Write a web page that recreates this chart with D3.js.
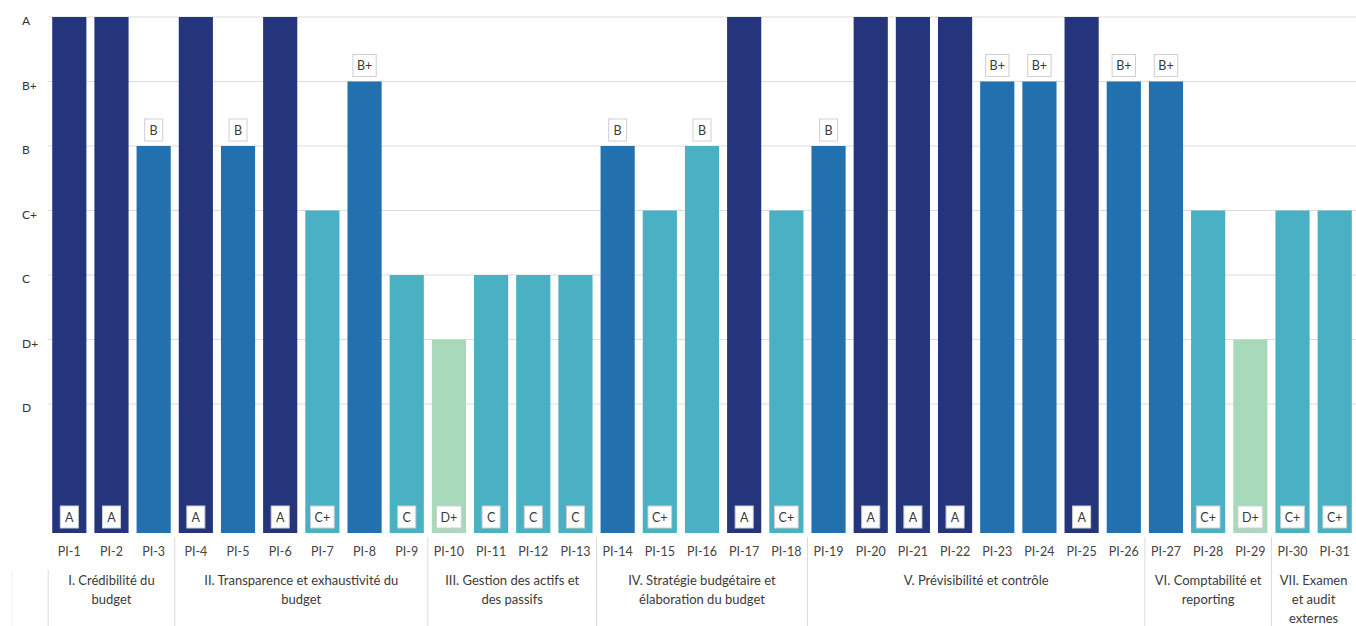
<!DOCTYPE html>
<html>
<head>
<meta charset="utf-8">
<script src="https://cdn.jsdelivr.net/npm/d3@7"></script>
<style>
  html, body { margin: 0; padding: 0; background: #fff; }
  svg { display: block; font-family: Lato, "Open Sans", sans-serif; }
</style>
</head>
<body>
<svg id="chart" width="1356" height="626"></svg>
<script>
// PEFA indicator scores
const indicators = ["PI-1","PI-2","PI-3","PI-4","PI-5","PI-6","PI-7","PI-8","PI-9","PI-10",
  "PI-11","PI-12","PI-13","PI-14","PI-15","PI-16","PI-17","PI-18","PI-19","PI-20",
  "PI-21","PI-22","PI-23","PI-24","PI-25","PI-26","PI-27","PI-28","PI-29","PI-30","PI-31"];
const scores = ["A","A","B","A","B","A","C+","B+","C","D+",
  "C","C","C","B","C+","B","A","C+","B","A",
  "A","A","B+","B+","A","B+","B+","C+","D+","C+","C+"];
// performance tier of each indicator (1 = highest)
const tiers = [1,1,2,1,2,1,3,2,3,4,
  3,3,3,2,3,3,1,3,2,1,
  1,1,2,2,1,2,2,3,4,3,3];
// grading scale shown on the axis, lowest to highest
const gradeLabels = ["D","D+","C","C+","B","B+","A"];
// pillars: label lines and number of indicators in each
const pillarLines = [
  ["I. Crédibilité du", "budget"],
  ["II. Transparence et exhaustivité du", "budget"],
  ["III. Gestion des actifs et", "des passifs"],
  ["IV. Stratégie budgétaire et", "élaboration du budget"],
  ["V. Prévisibilité et contrôle"],
  ["VI. Comptabilité et", "reporting"],
  ["VII. Examen", "et audit", "externes"]
];
const pillarSizes = [3, 6, 4, 5, 8, 3, 2];

const gradeValue = g => gradeLabels.indexOf(g) + 1;
const data = indicators.map((id, i) => ({ id, score: scores[i], value: gradeValue(scores[i]), tier: tiers[i] }));

const svg = d3.select("#chart");
const plotLeft = 48, plotRight = 1356, plotTop = 17, plotBottom = 533;

const x = d3.scaleBand().domain(indicators).range([plotLeft, plotRight]).paddingInner(0.19).paddingOuter(0.1);
const y = d3.scaleLinear().domain([-1, 7]).range([plotBottom, plotTop]);
const color = d3.scaleOrdinal().domain([1, 2, 3, 4]).range(["#25357b", "#2270ad", "#49b1c3", "#a8d9bb"]);

// horizontal grid lines at each grade
svg.append("g")
  .selectAll("line").data(d3.range(1, 8)).join("line")
  .attr("x1", plotLeft).attr("x2", plotRight)
  .attr("y1", d => y(d)).attr("y2", d => y(d))
  .attr("stroke", "#dcdcdc").attr("stroke-width", 1.2);

// grade labels on the left
const yAxis = d3.axisLeft(y).tickValues(d3.range(1, 8)).tickFormat(d => gradeLabels[d - 1]).tickSize(0);
const ya = svg.append("g").attr("transform", "translate(22,4)").call(yAxis);
ya.select(".domain").remove();
ya.selectAll("text").attr("text-anchor", "start").attr("x", 0)
  .attr("font-size", 12).attr("fill", "#333").attr("font-family", "Lato, sans-serif");

// bars
svg.append("g")
  .selectAll("rect").data(data).join("rect")
  .attr("x", d => x(d.id)).attr("width", x.bandwidth())
  .attr("y", d => y(d.value)).attr("height", d => y(-1) - y(d.value))
  .attr("fill", d => color(d.tier));

// score labels: above the bar for B and B+, inside at the foot otherwise
const above = d => d.score === "B" || d.score === "B+";
const lbl = svg.append("g").selectAll("g").data(data).join("g")
  .attr("transform", d => `translate(${x(d.id) + x.bandwidth() / 2},${above(d) ? y(d.value) - 16 : y(-1) - 16})`);
lbl.append("text")
  .attr("text-anchor", "middle").attr("dy", "0.36em")
  .attr("font-size", 12.5).attr("fill", "#3a3a3a")
  .text(d => d.score);
lbl.each(function () {
  const g = d3.select(this);
  const bb = g.select("text").node().getBBox();
  const w = Math.max(18, bb.width + 8);
  g.insert("rect", "text")
    .attr("x", -w / 2).attr("y", -11).attr("width", w).attr("height", 22)
    .attr("fill", "#fff").attr("stroke", "#cfcfcf").attr("stroke-width", 1);
});

// indicator names
const xAxis = d3.axisBottom(x).tickSize(0);
const xa = svg.append("g").attr("transform", `translate(0,${plotBottom + 11})`).call(xAxis);
xa.select(".domain").remove();
xa.selectAll("text").attr("font-size", 12.5).attr("fill", "#444").attr("font-family", "Lato, sans-serif");

// pillar separators and labels
const gap = x.step() * x.paddingInner() / 2;
let start = 0;
const pillars = pillarSizes.map((n, i) => {
  const p = { lines: pillarLines[i], first: indicators[start], last: indicators[start + n - 1] };
  start += n;
  return p;
});
const sep = svg.append("g").attr("stroke", "#dadada").attr("stroke-width", 1);
pillars.forEach((p, i) => {
  const x0 = x(p.first) - gap;
  const x1 = x(p.last) + x.bandwidth() + gap;
  sep.append("line").attr("x1", x0).attr("x2", x0)
    .attr("y1", i === 0 ? plotBottom + 37 : plotBottom + 4).attr("y2", 626);
  const t = svg.append("text").attr("text-anchor", "middle")
    .attr("font-size", 13).attr("fill", "#3a3a3a");
  p.lines.forEach((ln, k) => {
    t.append("tspan").attr("x", (x0 + x1) / 2).attr("y", plotBottom + 52 + k * 19).text(ln);
  });
});
sep.append("line").attr("x1", 12).attr("x2", 12).attr("y1", plotBottom + 37).attr("y2", 626).attr("stroke", "#eeeeee");
</script>
</body>
</html>
